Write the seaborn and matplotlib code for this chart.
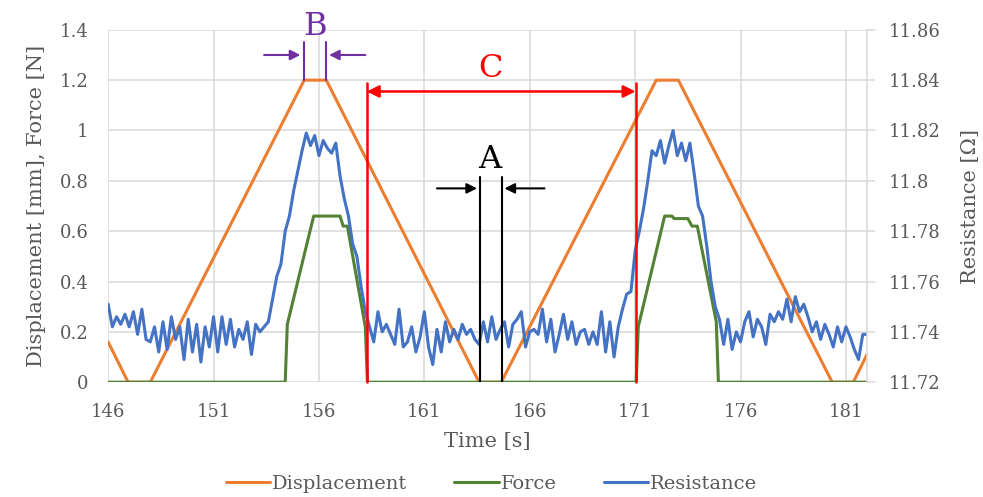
import numpy as np
import pandas as pd
import seaborn as sns
import matplotlib.pyplot as plt

# -------------------------------
# Data
# -------------------------------
disp_time = [146.0, 146.95, 148.0, 155.3, 156.35, 163.6, 164.65, 172.0, 173.05, 180.35, 181.35, 182.0]
disp_vals = [0.16, 0.0, 0.0, 1.2, 1.2, 0.0, 0.0, 1.2, 1.2, 0.0, 0.0, 0.11]

force_time = [146.0, 154.4, 154.5, 155.75, 157.0, 157.15, 157.35, 158.2, 158.3,
              171.05, 171.15, 172.4, 172.75, 172.85, 173.5, 173.7, 173.95, 174.85, 174.95, 182.0]
force_vals = [0.0, 0.0, 0.23, 0.66, 0.66, 0.62, 0.62, 0.22, 0.0,
              0.0, 0.22, 0.66, 0.66, 0.65, 0.65, 0.62, 0.62, 0.24, 0.0, 0.0]

# resistance sampled every 0.2 s from 146.0 to 182.0
resistance = [
    11.751, 11.742, 11.746, 11.743, 11.747, 11.742, 11.748, 11.739, 11.749, 11.737,
    11.736, 11.742, 11.732, 11.744, 11.733, 11.746, 11.737, 11.742, 11.729, 11.745,
    11.732, 11.743, 11.728, 11.742, 11.734, 11.746, 11.732, 11.746, 11.735, 11.745,
    11.734, 11.741, 11.737, 11.744, 11.731, 11.743, 11.740, 11.742, 11.744, 11.753,
    11.762, 11.767, 11.780, 11.786, 11.796, 11.804, 11.812, 11.819, 11.814, 11.818,
    11.810, 11.816, 11.813, 11.811, 11.815, 11.802, 11.793, 11.786, 11.775, 11.770,
    11.758, 11.748, 11.742, 11.736, 11.748, 11.740, 11.743, 11.739, 11.735, 11.749,
    11.734, 11.736, 11.742, 11.732, 11.738, 11.748, 11.734, 11.727, 11.741, 11.732,
    11.744, 11.736, 11.741, 11.737, 11.743, 11.739, 11.741, 11.737, 11.735, 11.744,
    11.736, 11.746, 11.737, 11.741, 11.744, 11.734, 11.743, 11.745, 11.748, 11.734,
    11.740, 11.741, 11.739, 11.749, 11.736, 11.745, 11.732, 11.739, 11.747, 11.737,
    11.744, 11.735, 11.740, 11.741, 11.735, 11.740, 11.735, 11.748, 11.732, 11.744,
    11.730, 11.742, 11.749, 11.755, 11.756, 11.772, 11.780, 11.789, 11.800, 11.812,
    11.810, 11.816, 11.807, 11.814, 11.820, 11.810, 11.815, 11.808, 11.815, 11.803,
    11.790, 11.786, 11.774, 11.760, 11.750, 11.745, 11.735, 11.745, 11.733, 11.740,
    11.736, 11.744, 11.748, 11.738, 11.745, 11.742, 11.735, 11.747, 11.744, 11.748,
    11.745, 11.753, 11.744, 11.754, 11.748, 11.751, 11.746, 11.740, 11.744, 11.737,
    11.743, 11.739, 11.734, 11.742, 11.736, 11.742, 11.738, 11.733, 11.729, 11.739,
    11.739,
]
res_time = np.round(146.0 + 0.2 * np.arange(len(resistance)), 1)

x_ticks = [146, 151, 156, 161, 166, 171, 176, 181]
left_ticks = [0, 0.2, 0.4, 0.6, 0.8, 1.0, 1.2, 1.4]
right_ticks = [11.72, 11.74, 11.76, 11.78, 11.80, 11.82, 11.84, 11.86]

df_disp = pd.DataFrame({"Time": disp_time, "Displacement": disp_vals})
df_force = pd.DataFrame({"Time": force_time, "Force": force_vals})
df_res = pd.DataFrame({"Time": res_time, "Resistance": resistance})

# -------------------------------
# Style
# -------------------------------
sns.set_style("white")
plt.rcParams["font.family"] = ["DejaVu Serif"]
gray = "#595959"
grid_c = "#D9D9D9"
c_disp, c_force, c_res = "#ED7D31", "#548235", "#4472C4"

fig = plt.figure(figsize=(9.83, 4.97), dpi=100)
ax = fig.add_axes([0.110, 0.231, 0.772, 0.709])
ax2 = ax.twinx()

sns.lineplot(data=df_disp, x="Time", y="Displacement", ax=ax, color=c_disp, lw=2.2, label="Displacement", legend=False)
sns.lineplot(data=df_force, x="Time", y="Force", ax=ax, color=c_force, lw=2.2, label="Force", legend=False)
sns.lineplot(data=df_res, x="Time", y="Resistance", ax=ax2, color=c_res, lw=2.2, label="Resistance", legend=False)

ax.set_xlim(146, 182)
ax.set_ylim(0, 1.4)
ax2.set_ylim(11.72, 11.86)
ax.set_xticks(x_ticks)
ax.set_yticks(left_ticks)
ax2.set_yticks(right_ticks)
ax.set_yticklabels([f"{v:g}" for v in left_ticks])
ax2.set_yticklabels([f"{v:g}" for v in right_ticks])

ax.grid(True, color=grid_c, lw=1.1)
ax.set_axisbelow(True)
for s in ax.spines.values():
    s.set_visible(False)
for k, s in ax2.spines.items():
    s.set_visible(k == "right")
ax2.spines["right"].set_color(grid_c)
ax2.spines["right"].set_linewidth(1.1)

ax.tick_params(axis="y", length=0, labelsize=13, labelcolor=gray, pad=14)
ax.tick_params(axis="x", length=0, labelsize=13, labelcolor=gray, pad=15)
ax2.tick_params(axis="y", length=6, width=1.1, color=grid_c, labelsize=13, labelcolor=gray, pad=10)

ax.set_xlabel("Time [s]", fontsize=15, color=gray, labelpad=8)
ax.set_ylabel("Displacement [mm], Force [N]", fontsize=15, color=gray, labelpad=10)
ax2.set_ylabel("Resistance [Ω]", fontsize=15, color=gray, labelpad=14)

# -------------------------------
# Annotations (left-axis coordinates)
# -------------------------------
T = ax.transData
red, purple = "#FF0000", "#7030A0"

# C
for xv in (158.27, 171.02):
    ax2.plot([xv, xv], [0, 1.19], color=red, lw=1.8, transform=T, clip_on=False)
ax2.annotate("", xy=(171.02, 1.155), xytext=(158.27, 1.155), xycoords=T, textcoords=T,
             arrowprops=dict(arrowstyle="<|-|>", color=red, lw=1.8, mutation_scale=18, shrinkA=0, shrinkB=0))
ax2.text(164.15, 1.245, "C", transform=T, color=red, fontsize=23, ha="center", va="center")

# A
for xv in (163.63, 164.67):
    ax2.plot([xv, xv], [0, 0.815], color="black", lw=1.5, transform=T)
ax2.annotate("", xy=(163.5, 0.77), xytext=(161.6, 0.77), xycoords=T, textcoords=T,
             arrowprops=dict(arrowstyle="-|>", color="black", lw=1.5, mutation_scale=15, shrinkA=0, shrinkB=0))
ax2.annotate("", xy=(164.8, 0.77), xytext=(166.7, 0.77), xycoords=T, textcoords=T,
             arrowprops=dict(arrowstyle="-|>", color="black", lw=1.5, mutation_scale=15, shrinkA=0, shrinkB=0))
ax2.text(164.12, 0.885, "A", transform=T, color="black", fontsize=23, ha="center", va="center")

# B
for xv in (155.27, 156.33):
    ax2.plot([xv, xv], [1.2, 1.35], color=purple, lw=1.5, transform=T, clip_on=False)
ax2.annotate("", xy=(155.12, 1.30), xytext=(153.4, 1.30), xycoords=T, textcoords=T, annotation_clip=False,
             arrowprops=dict(arrowstyle="-|>", color=purple, lw=1.5, mutation_scale=15, shrinkA=0, shrinkB=0))
ax2.annotate("", xy=(156.48, 1.30), xytext=(158.2, 1.30), xycoords=T, textcoords=T, annotation_clip=False,
             arrowprops=dict(arrowstyle="-|>", color=purple, lw=1.5, mutation_scale=15, shrinkA=0, shrinkB=0))
ax2.text(155.8, 1.415, "B", transform=T, color=purple, fontsize=23, ha="center", va="center", clip_on=False)

# -------------------------------
# Legend
# -------------------------------
h1, l1 = ax.get_legend_handles_labels()
h2, l2 = ax2.get_legend_handles_labels()
fig.legend(h1 + h2, l1 + l2, loc="center", bbox_to_anchor=(0.5, 0.027), ncol=3, frameon=False,
           fontsize=14, labelcolor=gray, handlelength=2.3, handletextpad=0.1, columnspacing=2.4)

fig.savefig("out.png", dpi=100)
